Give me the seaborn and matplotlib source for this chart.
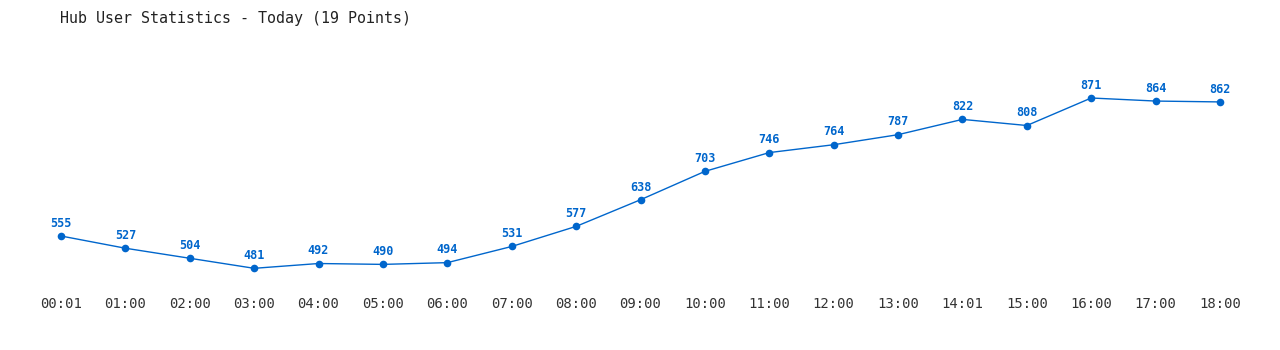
import matplotlib
matplotlib.use("Agg")
import matplotlib.pyplot as plt
import seaborn as sns
import pandas as pd

times = ["00:01", "01:00", "02:00", "03:00", "04:00", "05:00", "06:00", "07:00",
         "08:00", "09:00", "10:00", "11:00", "12:00", "13:00", "14:01", "15:00",
         "16:00", "17:00", "18:00"]
users = [555, 527, 504, 481, 492, 490, 494, 531, 577, 638, 703, 746, 764, 787,
         822, 808, 871, 864, 862]
title = "Hub User Statistics - Today (19 Points)"

sns.set_style("white")
plt.rcParams['font.family'] = ['DejaVu Sans Mono', 'DejaVu Sans']

color = "#0066CC"
df = pd.DataFrame({"idx": range(len(times)), "users": users})

fig = plt.figure(figsize=(12.8, 3.5), dpi=100)
ax = fig.add_axes([61/1280, 65/350, (1220-61)/1280, 245/350])
sns.lineplot(data=df, x="idx", y="users", ax=ax, color=color, linewidth=1,
             marker="o", markersize=5.5, markeredgewidth=0)
for ln in ax.lines:
    ln.set_clip_on(False)

for i, v in enumerate(users):
    ax.annotate(str(v), (i, v), xytext=(0, 4.5), textcoords="offset points",
                ha="center", va="bottom", fontsize=8.5, fontweight="bold", color=color)

ax.set_xlim(0, len(times) - 1)
ax.set_ylim(442.8, 1003.8)
ax.set_xticks(range(len(times)))
ax.set_xticklabels(times, fontsize=10, color="#333333")
ax.tick_params(axis="x", length=0, pad=8.5)
ax.set_yticks([])
ax.set_xlabel("")
ax.set_ylabel("")
for s in ax.spines.values():
    s.set_visible(False)

fig.text(60/1280, 1 - 18/350, title, fontsize=10.8, ha="left", va="center", color="#222222")

fig.savefig("out.png", dpi=100, facecolor="white")
